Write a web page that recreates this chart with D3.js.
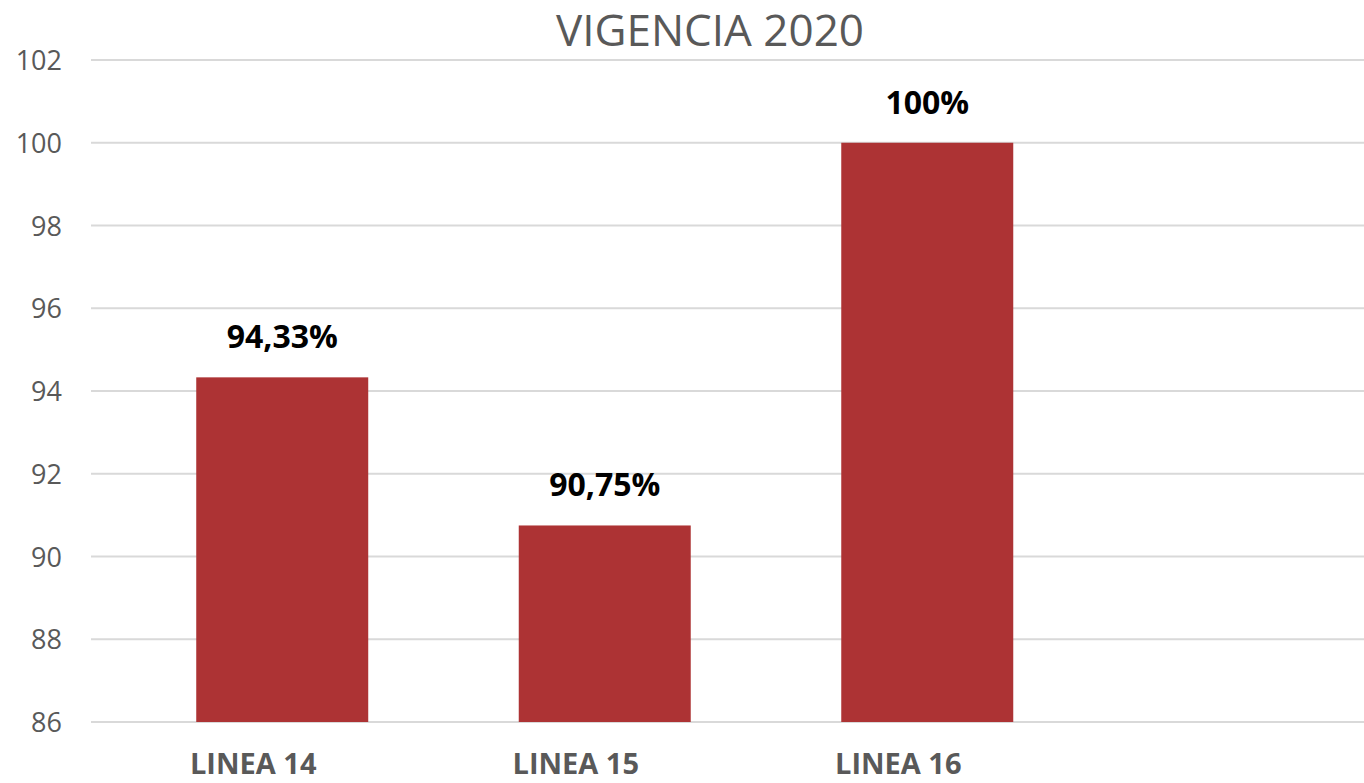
<!DOCTYPE html>
<html>
<head>
<meta charset="utf-8">
<script src="https://cdn.jsdelivr.net/npm/d3@7"></script>
<style>
  html, body { margin: 0; padding: 0; background: #ffffff; }
  svg { display: block; }
</style>
</head>
<body>
<svg id="chart" width="1364" height="783"></svg>
<script>
const title = "VIGENCIA 2020";
const categories = ["LINEA 14", "LINEA 15", "LINEA 16", ""];
const values = [94.33, 90.75, 100, null];
const valueLabels = ["94,33%", "90,75%", "100%", ""];
const yTicks = [86, 88, 90, 92, 94, 96, 98, 100, 102];

const svg = d3.select("#chart");
const W = 1364, H = 783;
const font = "'Open Sans', 'Noto Sans', sans-serif";

const x = d3.scaleBand()
  .domain(d3.range(categories.length))
  .range([121, 1411])
  .paddingInner(0.4667)
  .paddingOuter(0.2333);

const y = d3.scaleLinear().domain([86, 102]).range([722, 60]);

// gridlines
svg.append("g").selectAll("line")
  .data(yTicks)
  .join("line")
  .attr("x1", 91).attr("x2", W)
  .attr("y1", d => y(d)).attr("y2", d => y(d))
  .attr("stroke", "#d9d9d9").attr("stroke-width", 2);

// y axis labels
const yAxis = d3.axisLeft(y).tickValues(yTicks).tickSize(0).tickPadding(0);
const yg = svg.append("g").attr("transform", "translate(62,0)").call(yAxis);
yg.select(".domain").remove();
yg.selectAll("text")
  .attr("font-family", font).attr("font-size", 27)
  .attr("fill", "#595959").attr("dy", "0.36em");

// bars
const data = categories.map((c, i) => ({ i, c, v: values[i], lab: valueLabels[i] }))
  .filter(d => d.v != null);

svg.append("g").selectAll("rect")
  .data(data)
  .join("rect")
  .attr("x", d => x(d.i))
  .attr("width", x.bandwidth())
  .attr("y", d => y(d.v))
  .attr("height", d => y(86) - y(d.v))
  .attr("fill", "#ad3334");

// value labels
svg.append("g").selectAll("text")
  .data(data)
  .join("text")
  .attr("x", d => x(d.i) + x.bandwidth() / 2)
  .attr("y", d => y(d.v) - 29)
  .attr("text-anchor", "middle")
  .attr("font-family", font).attr("font-size", 32).attr("font-weight", "bold")
  .attr("fill", "#000000")
  .text(d => d.lab);

// x axis labels
const xAxis = d3.axisBottom(x).tickSize(0).tickPadding(0).tickFormat(i => categories[i]);
const xg = svg.append("g").attr("transform", "translate(0,774)").call(xAxis);
xg.select(".domain").remove();
xg.selectAll("text")
  .attr("font-family", font).attr("font-size", 29).attr("font-weight", "bold")
  .attr("fill", "#595959").attr("dy", 0).attr("dx", -29);

// title
svg.append("text")
  .attr("x", 710).attr("y", 46)
  .attr("text-anchor", "middle")
  .attr("font-family", font).attr("font-size", 44)
  .attr("fill", "#595959")
  .text(title);
</script>
</body>
</html>
